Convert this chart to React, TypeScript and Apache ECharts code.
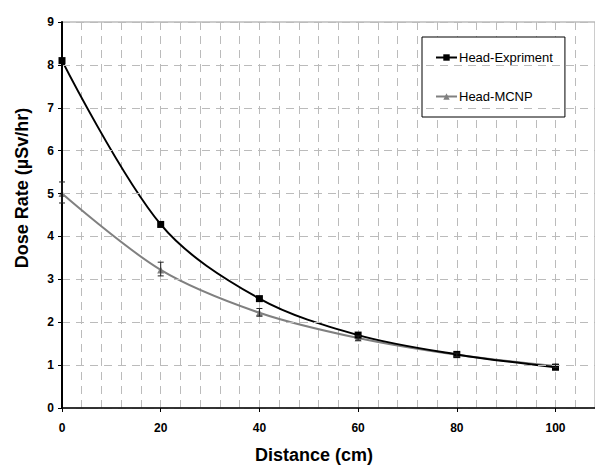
import React, { useEffect, useRef } from "react";
import * as echarts from "echarts";

const distances = [0, 20, 40, 60, 80, 100];
const headExperiment = [8.1, 4.28, 2.55, 1.7, 1.25, 0.95];
const headMCNP = [5.0, 3.22, 2.22, 1.63, 1.24, 0.98];
const mcnpLow = [4.78, 3.08, 2.14, 1.58, 1.2, 0.94];
const mcnpHigh = [5.27, 3.4, 2.32, 1.68, 1.28, 1.02];

const FONT = "'Liberation Sans', Arial, Helvetica, sans-serif";

export default function App() {
  const ref = useRef<HTMLDivElement>(null);
  useEffect(() => {
    document.body.style.margin = "0";
    if (!ref.current) return;
    const chart = echarts.init(ref.current, undefined, { renderer: "svg" });
    const expData = distances.map((d, i) => [d, headExperiment[i]]);
    const mcnpData = distances.map((d, i) => [d, headMCNP[i]]);
    const errData = distances.map((d, i) => [d, mcnpLow[i], mcnpHigh[i]]);
    chart.setOption({
      animation: false,
      backgroundColor: "#fff",
      textStyle: { fontFamily: FONT },
      grid: {
        left: 62,
        top: 22,
        right: 0,
        bottom: 59,
        show: true,
        borderColor: "#999",
        borderWidth: 1,
      },
      legend: {
        left: 422,
        top: 37,
        orient: "vertical",
        padding: [14, 12, 14, 13],
        itemGap: 26,
        itemWidth: 21,
        itemHeight: 8,
        backgroundColor: "#fff",
        borderColor: "#000",
        borderWidth: 1,
        textStyle: { fontSize: 13, color: "#000", fontFamily: FONT, padding: [0, 0, 0, -3] },
        data: ["Head-Expriment", "Head-MCNP"],
      },
      xAxis: [
        {
          type: "value",
          min: 0,
          max: 108,
          interval: 20,
          axisLine: { lineStyle: { color: "#000", width: 1.5 } },
          axisTick: { show: true, length: 4, lineStyle: { color: "#000" } },
          axisLabel: {
            margin: 14,
            fontSize: 12,
            fontWeight: "bold",
            color: "#000",
            fontFamily: FONT,
            showMaxLabel: false,
          },
          splitLine: { show: false },
          z: 5,
        },
        {
          type: "value",
          min: 0,
          max: 108,
          interval: 4,
          gridIndex: 0,
          position: "bottom",
          axisLine: { show: false },
          axisTick: { show: false },
          axisLabel: { show: false },
          splitLine: {
            show: true,
            lineStyle: { color: "#bbb", type: [8, 6], width: 1 },
          },
        },
      ],
      yAxis: {
        type: "value",
        min: 0,
        max: 9,
        interval: 1,
        axisLine: { show: true, lineStyle: { color: "#000", width: 2 } },
        axisTick: { show: true, length: 4, lineStyle: { color: "#000" } },
        axisLabel: {
          margin: 8,
          fontSize: 12,
          fontWeight: "bold",
          color: "#000",
          fontFamily: FONT,
        },
        splitLine: {
          show: true,
          lineStyle: { color: "#bbb", type: [8, 6], width: 1 },
        },
        z: 5,
      },
      graphic: [
        {
          type: "text",
          x: 314,
          y: 455,
          style: {
            text: "Distance (cm)",
            font: `bold 18px ${FONT}`,
            fill: "#000",
            align: "center",
            verticalAlign: "middle",
          },
        },
        {
          type: "text",
          x: 22,
          y: 188,
          rotation: Math.PI / 2,
          style: {
            text: "Dose Rate (µSv/hr)",
            font: `bold 18px ${FONT}`,
            fill: "#000",
            align: "center",
            verticalAlign: "middle",
          },
        },
      ],
      series: [
        {
          name: "Head-MCNP",
          type: "line",
          data: mcnpData,
          smooth: 0.33,
          symbol: "triangle",
          symbolSize: 7,
          itemStyle: { color: "#808080" },
          lineStyle: { color: "#808080", width: 2 },
          z: 3,
        },
        {
          name: "Head-Expriment",
          type: "line",
          data: expData,
          smooth: 0.33,
          symbol: "rect",
          symbolSize: 7,
          itemStyle: { color: "#000" },
          lineStyle: { color: "#000", width: 2 },
          z: 4,
        },
        {
          name: "err",
          type: "custom",
          data: errData,
          z: 6,
          renderItem: (params: any, api: any) => {
            const x = api.value(0);
            const lo = api.coord([x, api.value(1)]);
            const hi = api.coord([x, api.value(2)]);
            const w = 3;
            const style = { stroke: "#222", lineWidth: 1 };
            return {
              type: "group",
              children: [
                { type: "line", shape: { x1: lo[0], y1: lo[1], x2: hi[0], y2: hi[1] }, style },
                { type: "line", shape: { x1: lo[0] - w, y1: lo[1], x2: lo[0] + w, y2: lo[1] }, style },
                { type: "line", shape: { x1: hi[0] - w, y1: hi[1], x2: hi[0] + w, y2: hi[1] }, style },
              ],
            };
          },
        },
      ],
    });
    return () => chart.dispose();
  }, []);
  return (
    <div
      ref={ref}
      style={{ position: "absolute", left: 0, top: 0, width: 595, height: 467 }}
    />
  );
}
